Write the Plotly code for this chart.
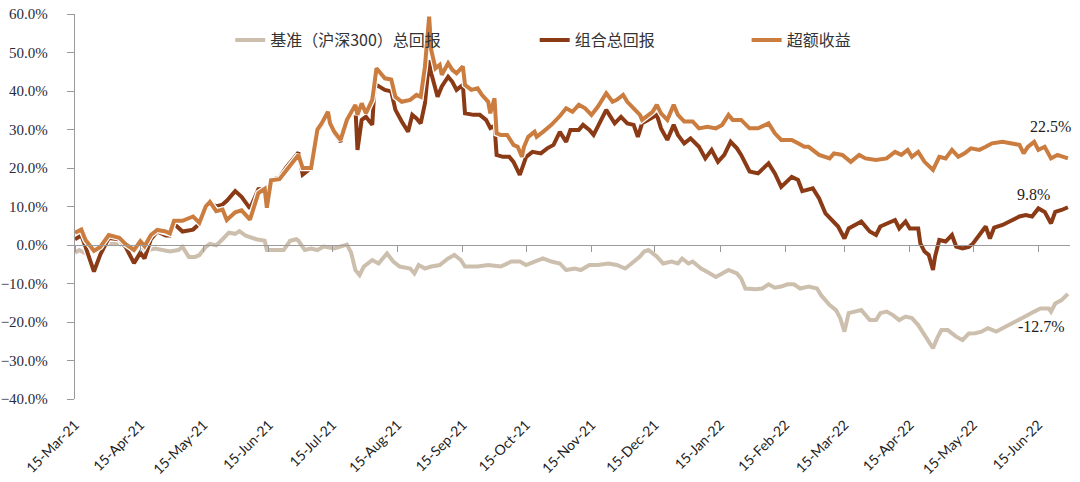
import plotly.graph_objects as go

# 基准（沪深300）总回报, %
bench_dates = [
    "2021-03-15", "2021-03-17", "2021-03-20", "2021-03-22", "2021-03-27", "2021-03-31",
    "2021-04-05", "2021-04-10", "2021-04-15", "2021-04-19", "2021-04-22", "2021-04-26", "2021-04-29",
    "2021-05-03", "2021-05-05", "2021-05-08", "2021-05-11", "2021-05-13", "2021-05-16", "2021-05-18", "2021-05-21", "2021-05-24", "2021-05-27", "2021-05-30",
    "2021-06-01", "2021-06-04", "2021-06-09", "2021-06-13", "2021-06-14", "2021-06-19", "2021-06-22", "2021-06-25", "2021-06-28", "2021-06-29",
    "2021-07-02", "2021-07-05", "2021-07-08", "2021-07-11", "2021-07-16", "2021-07-22", "2021-07-24", "2021-07-26", "2021-07-28", "2021-07-30",
    "2021-08-03", "2021-08-06", "2021-08-10", "2021-08-13", "2021-08-16", "2021-08-21", "2021-08-23", "2021-08-25", "2021-08-28", "2021-08-31",
    "2021-09-04", "2021-09-08", "2021-09-11", "2021-09-14", "2021-09-16", "2021-09-22", "2021-09-27",
    "2021-10-03", "2021-10-08", "2021-10-12", "2021-10-15", "2021-10-19", "2021-10-23", "2021-10-27", "2021-10-31",
    "2021-11-03", "2021-11-07", "2021-11-10", "2021-11-14", "2021-11-18", "2021-11-23", "2021-11-27",
    "2021-12-01", "2021-12-04", "2021-12-08", "2021-12-10", "2021-12-12", "2021-12-16", "2021-12-19", "2021-12-23", "2021-12-26", "2021-12-28", "2021-12-31",
    "2022-01-02", "2022-01-06", "2022-01-09", "2022-01-13", "2022-01-16", "2022-01-19", "2022-01-23", "2022-01-25", "2022-01-27",
    "2022-02-01", "2022-02-04", "2022-02-07", "2022-02-10", "2022-02-13", "2022-02-16", "2022-02-19", "2022-02-22", "2022-02-26",
    "2022-03-02", "2022-03-04", "2022-03-08", "2022-03-11", "2022-03-13", "2022-03-15", "2022-03-17", "2022-03-20", "2022-03-23", "2022-03-27", "2022-03-30",
    "2022-04-01", "2022-04-04", "2022-04-07", "2022-04-10", "2022-04-13", "2022-04-16", "2022-04-19", "2022-04-22", "2022-04-26", "2022-04-28", "2022-04-30",
    "2022-05-03", "2022-05-07", "2022-05-10", "2022-05-13", "2022-05-16", "2022-05-19", "2022-05-22", "2022-05-26", "2022-05-29",
    "2022-06-01", "2022-06-04", "2022-06-07", "2022-06-10", "2022-06-13", "2022-06-16", "2022-06-20", "2022-06-21", "2022-06-23", "2022-06-26", "2022-06-29",
]
bench = [
    -2.0, -1.3, -2.2, -0.5, -0.5, 0.3,
    0.3, -0.9, -1.3, -1.3, -0.9, -1.3, -1.7,
    -1.3, -0.5, -3.1, -3.1, -2.6, -0.5, 0.3, -0.1, 1.5, 3.2, 2.9,
    3.6, 2.4, 1.5, 1.1, -1.3, -1.3, -1.3, 1.1, 1.5, 1.1,
    -1.3, -0.9, -1.3, -0.4, -0.9, 0.1, -2.0, -6.5, -7.8, -5.6,
    -3.9, -4.8, -2.2, -4.3, -5.6, -6.1, -7.4, -5.2, -6.1, -5.6,
    -5.2, -3.5, -2.6, -3.9, -5.6, -5.6, -5.2,
    -5.6, -4.3, -4.3, -5.2, -4.3, -3.5, -4.3, -4.8,
    -6.5, -6.1, -6.5, -5.2, -5.2, -4.8, -5.2,
    -6.1, -4.8, -3.0, -1.7, -1.3, -3.0, -4.8, -4.3, -4.8, -3.5, -4.8,
    -4.3, -6.1, -7.0, -8.3, -7.4, -6.5, -7.4, -8.7, -11.3,
    -11.5, -11.3, -10.2, -11.1, -10.8, -10.2, -10.2, -11.3, -10.8,
    -11.3, -13.1, -15.6, -16.9, -19.0, -22.5, -17.7, -17.3, -16.9, -19.5, -19.5,
    -17.7, -17.3, -18.2, -19.5, -18.6, -19.0, -20.8, -23.4, -26.8, -24.2, -22.1,
    -22.1, -23.8, -24.7, -23.0, -22.9, -22.5, -21.6, -22.5, -21.6,
    -20.8, -19.9, -19.0, -18.2, -17.3, -16.5, -16.5, -17.3, -15.2, -14.3, -12.7,
]

# 组合总回报, %
port_dates = [
    "2021-03-15", "2021-03-18", "2021-03-20", "2021-03-24", "2021-03-27", "2021-03-31",
    "2021-04-05", "2021-04-08", "2021-04-12", "2021-04-15", "2021-04-17", "2021-04-20", "2021-04-23", "2021-04-27", "2021-04-29",
    "2021-05-01", "2021-05-05", "2021-05-10", "2021-05-13", "2021-05-16", "2021-05-18", "2021-05-21", "2021-05-24", "2021-05-26", "2021-05-30",
    "2021-06-02", "2021-06-06", "2021-06-10", "2021-06-13", "2021-06-14", "2021-06-16", "2021-06-20", "2021-06-23", "2021-06-26", "2021-06-29",
    "2021-07-01", "2021-07-05", "2021-07-08", "2021-07-10", "2021-07-13", "2021-07-14", "2021-07-16", "2021-07-19", "2021-07-22", "2021-07-26", "2021-07-27", "2021-07-29", "2021-07-31",
    "2021-08-03", "2021-08-04", "2021-08-05", "2021-08-09", "2021-08-12", "2021-08-14", "2021-08-17", "2021-08-20", "2021-08-22", "2021-08-24", "2021-08-26", "2021-08-28", "2021-08-30", "2021-08-31",
    "2021-09-03", "2021-09-05", "2021-09-08", "2021-09-10", "2021-09-12", "2021-09-15", "2021-09-16", "2021-09-20", "2021-09-23", "2021-09-26", "2021-09-28", "2021-09-30",
    "2021-10-01", "2021-10-04", "2021-10-07", "2021-10-09", "2021-10-12", "2021-10-15", "2021-10-18", "2021-10-22", "2021-10-25", "2021-10-28", "2021-10-31",
    "2021-11-03", "2021-11-05", "2021-11-09", "2021-11-11", "2021-11-14", "2021-11-16", "2021-11-19", "2021-11-22", "2021-11-26", "2021-11-29",
    "2021-12-02", "2021-12-05", "2021-12-07", "2021-12-09", "2021-12-12", "2021-12-16", "2021-12-18", "2021-12-21", "2021-12-24", "2021-12-26", "2021-12-29",
    "2022-01-01", "2022-01-05", "2022-01-08", "2022-01-11", "2022-01-14", "2022-01-17", "2022-01-20", "2022-01-23", "2022-01-25", "2022-01-29",
    "2022-02-02", "2022-02-07", "2022-02-10", "2022-02-13", "2022-02-18", "2022-02-21", "2022-02-23", "2022-02-28",
    "2022-03-03", "2022-03-06", "2022-03-09", "2022-03-12", "2022-03-15", "2022-03-17", "2022-03-20", "2022-03-23", "2022-03-27", "2022-03-30",
    "2022-04-01", "2022-04-04", "2022-04-08", "2022-04-10", "2022-04-13", "2022-04-15", "2022-04-19", "2022-04-20", "2022-04-22", "2022-04-24", "2022-04-26", "2022-04-27", "2022-04-29",
    "2022-05-02", "2022-05-05", "2022-05-07", "2022-05-10", "2022-05-13", "2022-05-15", "2022-05-18", "2022-05-21", "2022-05-23", "2022-05-25", "2022-05-29",
    "2022-06-03", "2022-06-06", "2022-06-09", "2022-06-12", "2022-06-15", "2022-06-18", "2022-06-21", "2022-06-23", "2022-06-26", "2022-06-29",
]
port = [
    1.5, 2.5, -0.5, -6.9, -2.5, 1.8,
    1.5, -0.5, -4.7, -2.0, -3.5, 1.5, 3.5, 2.5, 2.5,
    5.5, 3.5, 4.0, 5.5, 9.5, 11.0, 10.0, 10.5, 11.5, 14.0,
    12.5, 9.5, 14.5, 14.6, 10.0, 17.0, 17.5, 20.0, 22.0, 24.0,
    18.3, 20.0, 29.5, 31.2, 34.2, 31.5, 29.0, 26.8, 32.5, 36.0, 24.7, 32.5, 33.3,
    31.2, 40.3, 41.6, 40.3, 39.9, 35.1, 32.1, 29.4, 33.8, 32.9, 31.6, 36.8, 48.0, 44.6,
    38.5, 41.2, 43.7, 42.4, 40.3, 41.6, 34.2, 33.8, 33.8, 32.5, 30.4, 31.0,
    23.4, 22.9, 22.9, 21.6, 18.2, 22.9, 24.2, 23.8, 25.1, 26.0, 29.4,
    26.8, 29.9, 29.9, 31.2, 29.9, 28.6, 31.6, 35.1, 31.6, 33.3,
    31.6, 31.2, 28.1, 31.6, 32.5, 33.8, 30.3, 27.3, 31.2, 28.6, 26.4,
    27.7, 25.5, 22.5, 24.7, 21.6, 23.4, 26.8, 25.1, 23.4, 19.1,
    18.6, 21.2, 18.6, 15.1, 17.7, 16.9, 14.0, 14.7,
    12.1, 8.2, 6.5, 4.8, 1.7, 4.3, 5.2, 6.1, 3.5, 2.6,
    4.8, 5.6, 6.5, 4.3, 6.1, 4.3, 4.3, 0.4, -1.7, -2.6, -6.5, -3.0, 1.3,
    0.9, 2.6, -0.4, -0.9, -0.5, 0.4, 2.6, 4.8, 1.7, 4.5, 5.2,
    6.5, 7.4, 7.8, 7.4, 9.5, 8.6, 5.6, 8.6, 9.1, 9.8,
]

# 超额收益, %
excess_dates = [
    "2021-03-15", "2021-03-18", "2021-03-20", "2021-03-24", "2021-03-27", "2021-03-31",
    "2021-04-05", "2021-04-08", "2021-04-12", "2021-04-15", "2021-04-17", "2021-04-20", "2021-04-23", "2021-04-27", "2021-04-29",
    "2021-05-01", "2021-05-05", "2021-05-10", "2021-05-13", "2021-05-16", "2021-05-18", "2021-05-21", "2021-05-24", "2021-05-26", "2021-05-30",
    "2021-06-02", "2021-06-06", "2021-06-10", "2021-06-13", "2021-06-14", "2021-06-16", "2021-06-20", "2021-06-23", "2021-06-26", "2021-06-29",
    "2021-07-01", "2021-07-05", "2021-07-08", "2021-07-10", "2021-07-13", "2021-07-14", "2021-07-16", "2021-07-19", "2021-07-22", "2021-07-26", "2021-07-27", "2021-07-29", "2021-07-31",
    "2021-08-03", "2021-08-04", "2021-08-05", "2021-08-09", "2021-08-12", "2021-08-14", "2021-08-17", "2021-08-21", "2021-08-24", "2021-08-26", "2021-08-28", "2021-08-30", "2021-08-31",
    "2021-09-02", "2021-09-04", "2021-09-05", "2021-09-08", "2021-09-10", "2021-09-12", "2021-09-15", "2021-09-16", "2021-09-19", "2021-09-22", "2021-09-24", "2021-09-27", "2021-09-28", "2021-09-30",
    "2021-10-01", "2021-10-03", "2021-10-06", "2021-10-09", "2021-10-11", "2021-10-13", "2021-10-14", "2021-10-16", "2021-10-19", "2021-10-20", "2021-10-23", "2021-10-27", "2021-10-31",
    "2021-11-03", "2021-11-06", "2021-11-09", "2021-11-12", "2021-11-15", "2021-11-18", "2021-11-22", "2021-11-25", "2021-11-27", "2021-11-30",
    "2021-12-02", "2021-12-05", "2021-12-08", "2021-12-09", "2021-12-11", "2021-12-14", "2021-12-16", "2021-12-18", "2021-12-21", "2021-12-24", "2021-12-26", "2021-12-29",
    "2022-01-02", "2022-01-05", "2022-01-09", "2022-01-13", "2022-01-16", "2022-01-19", "2022-01-21", "2022-01-25", "2022-01-29",
    "2022-02-02", "2022-02-07", "2022-02-10", "2022-02-13", "2022-02-18", "2022-02-21", "2022-02-24", "2022-02-26",
    "2022-03-03", "2022-03-08", "2022-03-10", "2022-03-14", "2022-03-18", "2022-03-22", "2022-03-25", "2022-03-30",
    "2022-04-04", "2022-04-08", "2022-04-11", "2022-04-14", "2022-04-16", "2022-04-19", "2022-04-22", "2022-04-26", "2022-04-29",
    "2022-05-02", "2022-05-05", "2022-05-08", "2022-05-11", "2022-05-14", "2022-05-18", "2022-05-21", "2022-05-24", "2022-05-29",
    "2022-06-03", "2022-06-06", "2022-06-08", "2022-06-10", "2022-06-13", "2022-06-15", "2022-06-18", "2022-06-21", "2022-06-24", "2022-06-29",
]
excess = [
    3.2, 4.0, 1.3, -1.5, -0.5, 2.6,
    1.9, 0.2, -1.3, 1.0, -0.3, 2.6, 3.9, 3.5, 3.0,
    6.3, 6.3, 7.4, 5.8, 10.0, 11.2, 8.8, 9.2, 6.5, 8.5,
    9.0, 6.6, 13.5, 14.6, 9.7, 16.8, 17.1, 19.2, 21.3, 23.4,
    20.0, 20.0, 30.0, 31.6, 34.6, 31.6, 29.4, 27.3, 32.5, 36.4, 33.8, 36.8, 34.2,
    37.7, 41.6, 45.9, 43.3, 43.0, 38.5, 37.2, 37.7, 39.0, 38.5, 46.3, 59.3, 50.6,
    45.9, 46.8, 44.2, 47.2, 45.5, 44.6, 46.4, 41.6, 40.3, 40.7, 39.0, 37.2, 34.2, 38.1,
    29.0, 28.6, 28.6, 26.0, 25.5, 22.9, 25.5, 28.1, 29.4, 28.1, 29.4, 31.2, 33.5,
    35.5, 34.6, 36.4, 35.5, 33.8, 35.9, 39.4, 37.2, 37.7, 39.0,
    37.2, 35.5, 33.8, 32.5, 33.3, 34.6, 36.4, 34.2, 32.5, 36.4, 33.8, 32.1,
    32.1, 30.3, 30.7, 30.3, 31.2, 33.8, 32.5, 32.5, 30.3,
    30.3, 31.6, 29.0, 27.3, 27.3, 26.4, 25.5, 25.5,
    23.4, 22.5, 23.8, 23.4, 21.6, 23.4, 22.5, 22.1,
    22.5, 24.2, 23.4, 24.7, 22.9, 24.2, 21.6, 19.5, 22.9,
    22.5, 24.7, 22.9, 23.8, 25.1, 24.7, 25.5, 26.4, 26.8,
    26.4, 26.0, 23.8, 25.5, 26.8, 24.7, 25.5, 22.5, 23.4, 22.5,
]

BENCH_C = "#CDBFAE"
PORT_C = "#8B3A16"
EXCESS_C = "#CB7C3F"
AXIS_C = "#9A9A9A"

series = [
    ("基准（沪深300）总回报", bench_dates, bench, BENCH_C, "legend"),
    ("组合总回报", port_dates, port, PORT_C, "legend2"),
    ("超额收益", excess_dates, excess, EXCESS_C, "legend3"),
]

fig = go.Figure()
for name, xs, ys, color, leg in series:
    assert len(xs) == len(ys), name
    # thin white halo under each line, like the original chart
    fig.add_trace(go.Scatter(x=xs, y=ys, mode="lines", line=dict(color="white", width=6.5),
                             showlegend=False, hoverinfo="skip"))
    fig.add_trace(go.Scatter(x=xs, y=ys, mode="lines", name=name,
                             line=dict(color=color, width=4), legend=leg))

# empty trace so the tick axis sitting on the 0% line gets drawn
fig.add_trace(go.Scatter(x=[bench_dates[0]], y=[None], xaxis="x2", mode="lines",
                         showlegend=False, hoverinfo="skip"))

# end-of-period labels
end_labels = [
    (excess_dates[-1], excess[-1], 5, 32),
    (port_dates[-1], port[-1], -16, 13),
    (bench_dates[-1], bench[-1], -1, -33),
]
for xd, v, dx, dy in end_labels:
    fig.add_annotation(x=xd, y=v, xref="x", yref="y", text=f"{v:.1f}%", showarrow=False,
                       xanchor="right", yanchor="middle", xshift=dx, yshift=dy,
                       font=dict(family="Liberation Serif", size=16, color="#222"))

legend_style = dict(orientation="h", yanchor="middle", y=0.932, xanchor="left",
                    bgcolor="rgba(0,0,0,0)",
                    font=dict(family="Noto Sans CJK SC", size=16, color="#333"))

fig.update_layout(
    width=1080,
    height=482,
    margin=dict(l=75, r=10, t=14, b=83, autoexpand=False),
    plot_bgcolor="white",
    paper_bgcolor="white",
    legend=dict(x=0.156, **legend_style),
    legend2=dict(x=0.462, **legend_style),
    legend3=dict(x=0.675, **legend_style),
    xaxis=dict(
        type="date",
        range=["2021-03-15", "2022-06-30"],
        tick0="2021-03-15",
        dtick="M1",
        tickformat="%d-%b-%y",
        tickangle=-45,
        ticks="",
        showline=False,
        showgrid=False,
        zeroline=False,
        automargin=False,
        ticklabelstandoff=14,
        tickfont=dict(family="Lato", size=14, color="#222"),
    ),
    xaxis2=dict(
        type="date",
        matches="x",
        overlaying="x",
        anchor="free",
        position=0.4,
        tick0="2021-03-15",
        dtick="M1",
        ticks="outside",
        ticklen=6,
        tickcolor=AXIS_C,
        showticklabels=False,
        showline=True,
        linecolor=AXIS_C,
        linewidth=1.3,
        showgrid=False,
        zeroline=False,
        automargin=False,
    ),
    yaxis=dict(
        range=[-40, 60],
        dtick=10,
        tickformat=".1f",
        ticksuffix="%",
        ticks="outside",
        ticklen=7,
        tickcolor=AXIS_C,
        showline=True,
        linecolor=AXIS_C,
        linewidth=1.3,
        showgrid=False,
        zeroline=False,
        automargin=False,
        ticklabeloverflow="allow",
        ticklabelstandoff=16,
        tickfont=dict(family="Liberation Serif", size=15, color="#2a2a3a"),
    ),
)

# drop the page's default 8px body margin so the figure fills the window
fig.write_html("out.html", config={"displayModeBar": False},
               post_script="document.body.style.margin = '0';")
